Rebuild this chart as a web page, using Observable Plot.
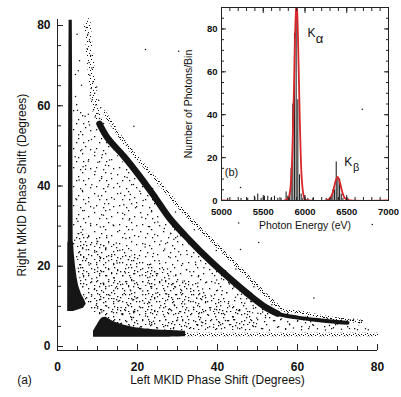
<!DOCTYPE html>
<html><head><meta charset="utf-8">
<script src="https://cdn.jsdelivr.net/npm/d3@7"></script>
<script src="https://cdn.jsdelivr.net/npm/@observablehq/plot@0.6"></script>
<style>
html,body{margin:0;padding:0;background:#fff;}
#wrap{position:relative;width:401px;height:397px;}
#wrap svg{position:absolute;left:0;top:0;}
</style></head><body><div id="wrap"></div>
<script>
// ---------- Panel (a) data: Left vs Right MKID phase shift (degrees) ----------
const xTicks = [0, 20, 40, 60, 80];
const yTicks = [0, 20, 40, 60, 80];
const minorDeg = [0,5,10,15,20,25,30,35,40,45,50,55,60,65,70,75,80];

// dense main curved band (centre line)
const mainBandX = [10.5, 12.5, 16.5, 20.5, 24.5, 28, 33, 38, 43, 48, 52, 55];
const mainBandY = [55.5, 52, 47.5, 42.5, 37, 32, 26.5, 21.5, 17, 12.8, 9.8, 8.2];
// thinner tail of the main band
const tailX = [52, 55, 60, 66, 72.5];
const tailY = [9.8, 8.2, 7.2, 6.5, 5.9];
// sparse outer band
const outerX = [11.7, 16.7, 21.7, 26.7, 31.7, 38.3, 43.3, 48.3, 53.3, 56.5, 60.8, 65, 70, 76];
const outerY = [58.4, 50.9, 45, 39.2, 33.4, 26.7, 21.7, 16.7, 11.7, 9.2, 8.5, 7.6, 6.8, 6.2];
// sparse ribbon coming down from the top
const ribbonX = [7.4, 7.9, 8.4, 9.0, 9.8, 11.0];
const ribbonY = [81, 75, 69, 63, 58, 55.5];
// vertical strip at left (Left ~3 deg)
const stripY = [8.7, 30, 60, 81.3];
const stripL = [2.6, 2.7, 2.8, 2.9];
const stripR = [4.0, 3.9, 3.8, 3.7];
// wedge at the foot of the strip
const wedgeY = [8.7, 9.5, 10.5, 11.5, 13, 15, 17, 20, 23, 26];
const wedgeL = [2.6, 2.6, 2.6, 2.6, 2.6, 2.6, 2.6, 2.6, 2.6, 2.6];
const wedgeR = [4.0, 6.5, 7.2, 6.8, 6.0, 5.3, 4.9, 4.5, 4.2, 4.0];
// dense horizontal floor (Right ~3 deg) with blob at left
const floorX = [9, 10, 11, 12, 13, 14, 16, 18, 20, 24, 28, 32];
const floorLo = [2.3, 2.3, 2.3, 2.3, 2.3, 2.3, 2.3, 2.3, 2.3, 2.3, 2.3, 2.4];
const floorHi = [3.8, 5.5, 7.0, 7.3, 6.8, 6.2, 5.5, 5.0, 4.6, 4.2, 4.0, 3.8];
const floorSpeckX = [30, 80];
const floorSpeckY = [3.0, 3.0];
// extent of the diffuse cloud of events under the bands
const cloudX   = [4, 6, 8, 9, 10, 12, 16, 20, 25, 30, 35, 40, 45, 50, 55, 60, 70, 78];
const cloudTop = [62, 60, 57, 56, 54.5, 51.5, 46.5, 41.5, 36, 30, 24.5, 20, 15.5, 11.5, 8.3, 7, 5.8, 5];
const cloudBot = [25, 13, 9, 8.8, 7.5, 7, 5.5, 4.6, 4.2, 4, 4, 4, 4, 4, 4, 4, 4, 4];
// denser part of the cloud, lower left
const denseX   = [5, 8, 10, 15, 20, 25, 30, 40, 50];
const denseTop = [28, 28, 27, 25, 22, 20, 17, 12, 8];
const denseBot = [20, 9, 7.5, 5.5, 4.6, 4.2, 4, 4, 4];

// scattered events
const scatterLow = [[16,5.8],[18,5.1],[21,4.9],[23,5.6],[25,4.6],[27,5.2],[29,4.4],[31,5.0],[33,4.5],[35,5.3],[37,4.3],[39,4.8],[41,4.4],[43,5.4],[45,4.6],[47,4.2],[49,5.0],[51,4.5],[53,4.1],[55,4.8],[57,4.3],[59,4.6],[61,4.2],[63,4.9],[65,4.4],[67,4.1],[69,4.7],[71,4.3],[73,4.5],[75,4.2],[77,4.4],[24,6.3],[30,6.6],[36,6.1],[42,6.5],[48,6.0],[54,6.4],[58,5.6],[62,5.9],[66,6.2],[70,5.6],[44,7.4],[52,7.2],[56,6.9],[60,6.3],[64,5.3],[68,5.2],[74,6.8],[76,6.4],[19,7.2],[14,8.4],[17,9.0],[77.7,4.2]];
const scatterMid = [[8.5,12.5],[9.2,14.2],[10,9.5],[10.8,11.8],[11.5,13.5],[12.3,10.1],[13.1,12.7],[13.8,9.2],[14.5,14.6],[15.2,11.3],[16,8.1],[16.7,13.2],[17.5,10.4],[18.2,14.1],[19,8.8],[19.7,12.0],[20.5,9.9],[21.3,13.8],[22,7.6],[22.8,11.1],[23.5,14.5],[24.3,8.7],[25,12.4],[25.8,10.2],[26.5,7.9],[27.3,13.1],[28,9.4],[28.8,11.7],[29.5,14.8],[30.3,8.3],[31,12.9],[31.8,10.6],[32.5,7.5],[33.3,13.7],[34,9.8],[34.8,12.1],[35.5,8.4],[36.3,14.3],[37,10.9],[37.8,7.8],[38.5,12.6],[39.3,9.3],[40,14.0],[40.8,11.2],[41.5,8.2],[42.3,13.4],[43,10.1],[43.8,7.4],[44.5,12.3],[45.3,9.0],[46,13.0],[46.8,10.8],[47.5,8.0],[48.3,11.3],[49,9.5],[49.8,7.1],[50.5,10.6],[51.3,8.6],[52,7.7],
 [4.5,16.2],[5.2,19.5],[5.8,22.8],[6.5,17.4],[7.2,24.1],[7.9,20.3],[8.6,16.9],[9.3,23.5],[10,18.7],[10.7,21.9],[11.4,15.8],[12.1,24.6],[12.8,19.2],[13.5,22.4],[14.2,17.1],[14.9,20.8],[15.6,24.0],[16.3,15.5],[17,18.3],[17.7,21.6],[18.4,23.9],[19.1,16.4],[19.8,19.9],[20.5,22.7],[21.2,17.8],[21.9,24.8],[22.6,15.9],[23.3,20.5],[24,23.2],[24.7,18.1],[25.4,21.4],[26.1,16.6],[26.8,24.3],[27.5,19.3],[28.2,22.1],[28.9,15.7],[29.6,17.9],[30.3,23.6],[31,20.2],[31.7,16.3],[32.4,22.9],[33.1,18.6],[33.8,15.4],[34.5,21.0],[35.2,17.4],[35.9,23.3],[36.6,19.6],[37.3,16.1],[38,20.9],[38.7,18.2],[39.4,15.8],[40.1,19.1],[41,16.9],[42,18.9],[43,15.6],
 [9.7,10.3],[11.1,8.6],[12.9,15.1],[14.1,11.9],[15.9,9.7],[17.3,16.2],[18.8,11.6],[20.2,14.7],[21.7,10.8],[23.1,17.3],[24.6,13.3],[26.2,19.6],[27.9,16.9],[29.2,10.4],[30.8,14.2],[32.2,19.1],[33.9,11.2],[35.1,15.8],[36.9,12.7],[38.2,9.1],[39.8,16.6],[41.2,13.9],[42.7,10.7],[44.1,14.8],[45.8,11.9],[47.2,9.4],[48.9,10.2],[50.1,8.3]];
const scatterHigh = [[4.3,26.5],[5.1,31.2],[5.9,28.4],[6.7,33.9],[7.5,27.1],[8.3,30.6],[9.1,34.5],[9.9,26.2],[10.7,29.8],[11.5,32.7],[12.3,27.6],[13.1,34.1],[13.9,30.3],[14.7,25.8],[15.5,28.9],[16.3,33.2],[17.1,26.9],[17.9,31.5],[18.7,29.1],[19.5,34.6],[20.3,27.4],[21.1,32.2],[21.9,25.5],[22.7,29.9],[23.5,33.6],[24.3,27.9],[25.1,31.0],[25.9,26.3],[26.7,29.4],[27.5,25.9],[28.3,28.2],[29.1,26.7],[30,27.5],
 [4.6,36.8],[5.4,41.5],[6.2,38.9],[7,44.2],[7.8,36.1],[8.6,40.3],[9.4,43.6],[10.2,37.5],[11,41.9],[11.8,35.6],[12.6,39.8],[13.4,43.1],[14.2,36.7],[15,40.6],[15.8,38.2],[16.6,35.3],[17.4,42.1],[18.2,37.9],[19,40.4],[19.8,35.8],[20.6,38.7],[21.4,36.4],
 [4.4,47.3],[5.3,52.8],[6.1,49.1],[6.9,57.4],[7.7,46.2],[8.5,51.6],[9.3,48.4],[10.1,45.9],[11.2,47.8],[12,45.2],[5.0,58.9],[6.4,44.8],[13,46.5],
 [4.5,62.3],[5.2,68.7],[4.9,77.8],[6.0,65.1],[5.5,71.2],[4.5,67.8],
 [7.2,79.5],[7.6,77.8],[8.0,76.1],[7.4,74.2],[8.3,72.5],[7.9,70.8],[8.6,69.4],[8.1,67.6],[8.9,66.0],[8.4,64.3],[9.3,63.1],[8.7,61.5],[9.6,60.2],[9.0,59.0],[10.1,58.1],[9.4,57.2],[10.5,56.8],[8.2,62.6],[10.8,59.5],[7.7,57.9],[8.0,55.2],[11.5,55.6],[10.3,61.4],[9.8,64.7],
 [14.6,50.2],[18.9,45.3],[23.8,39.4],[29.5,33.5],[34.2,29.1],[39.7,23.9],[44.6,19.3],[49.1,14.9],[53.6,10.4],[57.5,8.2],[62.5,7.5],[67.5,7.0],[71,6.9],[73.2,6.6],[75.5,6.0]];
const outliers = [[22,74],[30.3,73.6],[19.1,54.9],[45.3,30.8],[50.3,25.9],[45.75,24.2],[64.1,12.1],[78.7,30.4],[76.2,59.1],[45.75,39.6]];

// ---------- Panel (b) data: energy histogram ----------
const eTicks = [5000, 5500, 6000, 6500, 7000];
const eMinor = [5000,5100,5200,5300,5400,5500,5600,5700,5800,5900,6000,6100,6200,6300,6400,6500,6600,6700,6800,6900,7000];
const nTicks = [0, 20, 40, 60, 80];
const nMinor = [0,5,10,15,20,25,30,35,40,45,50,55,60,65,70,75,80,85,90];
const binWidth = 20;
const histE = [5080,5240,5320,5400,5440,5480,5520,5560,5600,5640,5680,5720,5780,5800,5820,5840,5860,5880,5900,5920,5940,5960,5980,6000,6040,6100,6260,6300,6320,6340,6360,6380,6400,6420,6440,6460,6520];
const histN = [1,1,1,2,3,1,2,2,1,2,1,1,4,2,4,15,45,78,93,47,12,3,1,2,1,1,1,1,2,5,5,18,10,10,3,1,1];
const fitE = [5000,5750,5800,5820,5840,5860,5870,5880,5890,5898,5905,5920,5940,5960,5980,6000,6050,6250,6300,6330,6350,6370,6390,6410,6430,6450,6470,6500,6550,7000];
const fitN = [0,0,1,4,14,40,56,75,87,91,89,69,34,11,3,0.5,0,0,1,3.5,6.5,9.5,11,9.5,6.5,3.5,1.5,0.4,0,0];

const zip = (a, b) => a.map((v, i) => ({x: v, y: b[i]}));
const FONT = "'Liberation Sans', Arial, Helvetica, sans-serif";
const INK = "#111";

const yDom = [-1, 81.5];
const main = Plot.plot({
  width: 401, height: 397,
  marginLeft: 57, marginRight: 24, marginTop: 19, marginBottom: 47,
  style: {fontFamily: FONT, fontSize: "12px", color: INK, background: "white"},
  x: {domain: [0, 80], axis: null},
  y: {domain: yDom, axis: null},
  marks: [
    Plot.areaY(cloudX.map((x, i) => ({x, a: cloudBot[i], b: cloudTop[i]})), {x: "x", y1: "a", y2: "b", fill: "url(#pCloudA)"}),
    Plot.areaY(denseX.map((x, i) => ({x, a: denseBot[i], b: denseTop[i]})), {x: "x", y1: "a", y2: "b", fill: "url(#pCloudB)", curve: "catmull-rom"}),
    Plot.areaX(stripY.map((y, i) => ({y, a: stripL[i], b: stripR[i]})), {y: "y", x1: "a", x2: "b", fill: "#161616"}),
    Plot.areaX(wedgeY.map((y, i) => ({y, a: wedgeL[i], b: wedgeR[i]})), {y: "y", x1: "a", x2: "b", fill: "#161616"}),
    Plot.areaY(floorX.map((x, i) => ({x, a: floorLo[i], b: floorHi[i]})), {x: "x", y1: "a", y2: "b", fill: "#161616", curve: "catmull-rom"}),
    Plot.line(zip(floorSpeckX, floorSpeckY), {x: "x", y: "y", stroke: "url(#pBand)", strokeWidth: 3.5}),
    Plot.line(zip(ribbonX, ribbonY), {x: "x", y: "y", stroke: "url(#pRibbon)", strokeWidth: 7, curve: "catmull-rom"}),
    Plot.line(zip(outerX, outerY), {x: "x", y: "y", stroke: "url(#pBand)", strokeWidth: 3.5, curve: "catmull-rom"}),
    Plot.line(zip(mainBandX, mainBandY), {x: "x", y: "y", stroke: "#141414", strokeWidth: 6.5, curve: "catmull-rom"}),
    Plot.line(zip(tailX, tailY), {x: "x", y: "y", stroke: "#141414", strokeWidth: 4, curve: "catmull-rom"}),
    Plot.dot([...scatterLow, ...scatterMid, ...scatterHigh, ...outliers], {x: d => d[0], y: d => d[1], r: 0.75, fill: INK, stroke: "none"}),
    Plot.ruleX([0], {stroke: "#222"}),
    Plot.ruleY([yDom[0]], {stroke: "#222"}),
    Plot.axisY(yTicks, {tickSize: -6, fill: "none", stroke: "#222"}),
    Plot.axisY(minorDeg, {tickSize: -4, fill: "none", stroke: "#222"}),
    Plot.axisX(xTicks, {tickSize: -6, fill: "none", stroke: "#222"}),
    Plot.axisX(minorDeg, {tickSize: -4, fill: "none", stroke: "#222"}),
    Plot.axisY(yTicks, {tickSize: 0, tickPadding: 7, label: null, fontSize: 12, fontWeight: "bold"}),
    Plot.axisX(xTicks, {tickSize: 0, tickPadding: 12, label: null, fontSize: 12, fontWeight: "bold"}),
    Plot.text(["Left MKID Phase Shift (Degrees)"], {frameAnchor: "bottom", dy: 33, fontSize: 12}),
    Plot.text(["Right MKID Phase Shift (Degrees)"], {frameAnchor: "left", dx: -35, rotate: -90, textAnchor: "middle", fontSize: 12}),
    Plot.text(["(a)"], {frameAnchor: "bottom-left", dx: -33, dy: 33, textAnchor: "middle", fontSize: 12})
  ]
});

// grain patterns used as fills for the sparse event bands (style only)
const defs = d3.select(main).insert("defs", ":first-child");
function pattern(id, w, h, dots, size, shift) {
  const p = defs.append("pattern").attr("id", id).attr("width", w).attr("height", h)
    .attr("x", shift).attr("y", shift).attr("patternUnits", "userSpaceOnUse");
  for (const [x, y] of dots) p.append("rect").attr("x", x).attr("y", y).attr("width", size).attr("height", size).attr("fill", INK);
}
pattern("pBand", 12, 12, [[0,0],[3,1],[7,0],[10,2],[1,3],[5,3],[8,4],[11,5],[2,5],[6,6],[0,7],[4,8],[9,7],[7,9],[1,10],[3,11],[10,10],[5,10],[8,11],[11,8],[2,8],[6,1],[9,0],[4,4],[0,5],[7,6],[10,4],[3,6],[5,8],[11,11],[8,2],[2,1]], 1, -0.5);
pattern("pRibbon", 14, 14, [[1,2],[6,0],[11,3],[3,7],[9,6],[13,10],[0,12],[5,11],[8,13],[12,1],[4,4],[10,9],[2,9],[7,3],[12,6],[6,8],[9,11],[3,13]], 1, -0.5);
pattern("pCloudA", 23, 19, [[2,3],[13,1],[19,7],[7,9],[16,13],[4,15],[11,17],[21,16],[9,5],[14,9]], 1.3, 0);
pattern("pCloudB", 17, 13, [[3,2],[11,4],[15,10],[6,8],[1,11],[9,12],[14,0],[12,7]], 1.3, 0);

const fmt = d3.format("d");
const inset = Plot.plot({
  width: 401, height: 397,
  marginLeft: 221, marginRight: 13, marginTop: 7, marginBottom: 197,
  style: {fontFamily: FONT, fontSize: "10px", color: INK, background: "transparent"},
  x: {domain: [5000, 7000], axis: null},
  y: {domain: [0, 90], axis: null},
  marks: [
    Plot.rectY(histE.map((e, i) => ({e, n: histN[i]})), {x1: d => d.e - binWidth / 2, x2: d => d.e + binWidth / 2, y: "n", fill: "#222", insetLeft: 0.3, insetRight: 0.3, clip: true}),
    Plot.line(zip(fitE, fitN), {x: "x", y: "y", stroke: "#d8262a", strokeWidth: 1.8, curve: "catmull-rom", clip: true}),
    Plot.frame({stroke: "#222"}),
    Plot.axisY(nTicks, {tickSize: -5, fill: "none", stroke: "#222"}),
    Plot.axisY(nMinor, {tickSize: -3, fill: "none", stroke: "#222"}),
    Plot.axisY(nTicks, {anchor: "right", tickSize: -5, fill: "none", stroke: "#222"}),
    Plot.axisY(nMinor, {anchor: "right", tickSize: -3, fill: "none", stroke: "#222"}),
    Plot.axisX(eTicks, {tickSize: -5, fill: "none", stroke: "#222"}),
    Plot.axisX(eMinor, {tickSize: -3, fill: "none", stroke: "#222"}),
    Plot.axisX(eTicks, {anchor: "top", tickSize: -5, fill: "none", stroke: "#222"}),
    Plot.axisX(eMinor, {anchor: "top", tickSize: -3, fill: "none", stroke: "#222"}),
    Plot.axisY(nTicks, {tickSize: 0, tickPadding: 4, label: null, fontSize: 9.5, fontWeight: "bold", tickFormat: fmt}),
    Plot.axisX(eTicks, {tickSize: 0, tickPadding: 8, label: null, fontSize: 9.5, fontWeight: "bold", tickFormat: fmt}),
    Plot.text(["Photon Energy (eV)"], {frameAnchor: "bottom", dy: 28, fontSize: 10.5}),
    Plot.text(["Number of Photons/Bin"], {frameAnchor: "left", dx: -33, rotate: -90, textAnchor: "middle", fontSize: 10.5}),
    Plot.text(["(b)"], {x: [5120], y: [13], fontSize: 11}),
    Plot.text(["K"], {x: [6030], y: [77.9], textAnchor: "start", fontSize: 12}),
    Plot.text(["α"], {x: [6130], y: [75.5], textAnchor: "start", fontSize: 13}),
    Plot.text(["K"], {x: [6470], y: [17.7], textAnchor: "start", fontSize: 12}),
    Plot.text(["β"], {x: [6575], y: [15.6], textAnchor: "start", fontSize: 11})
  ]
});

const wrap = document.getElementById("wrap");
wrap.appendChild(main);
wrap.appendChild(inset);
</script></body></html>
